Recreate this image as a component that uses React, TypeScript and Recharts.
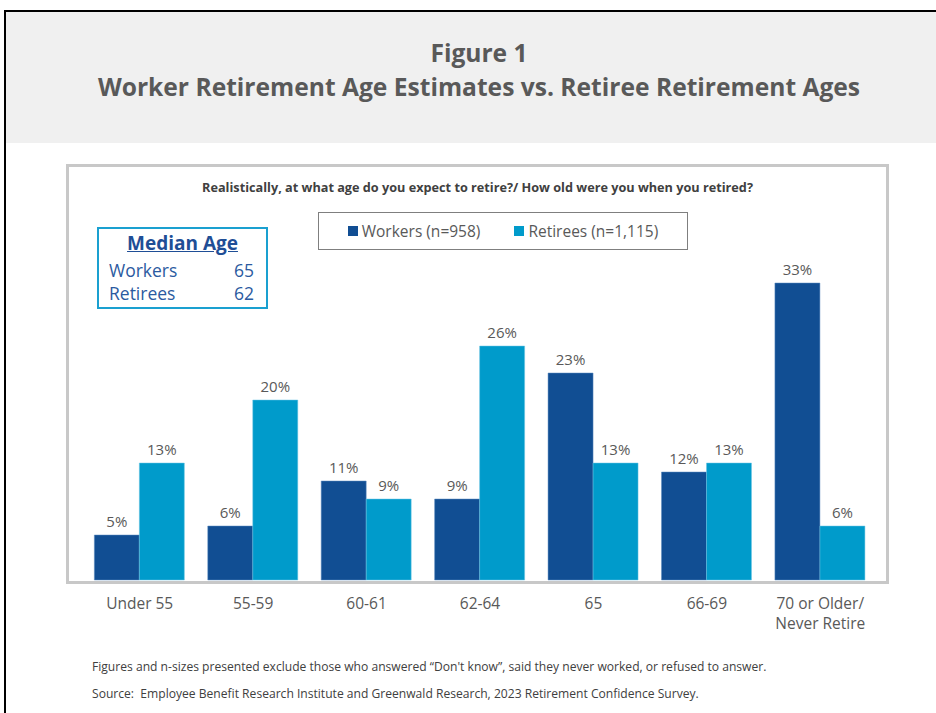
import React from "react";
import { BarChart, Bar, XAxis, YAxis, LabelList } from "recharts";

const categories = ["Under 55", "55-59", "60-61", "62-64", "65", "66-69", "70 or Older/\nNever Retire"];
const workers = [5, 6, 11, 9, 23, 12, 33];
const retirees = [13, 20, 9, 26, 13, 13, 6];
const seriesNames = ["Workers (n=958)", "Retirees (n=1,115)"];
const seriesColors = ["#114e93", "#009bcb"];

const FONT = "'Open Sans', 'DejaVu Sans', sans-serif";
const GRAY = "#595959";

const data = categories.map((c, i) => ({
  category: c,
  workers: workers[i],
  retirees: retirees[i],
}));

const AgeTick = ({ x, y, payload }: any) => {
  const lines = String(payload.value).split("\n");
  return (
    <text x={x} y={y} textAnchor="middle" fill={GRAY} fontSize={15.5} fontFamily={FONT}>
      {lines.map((line, i) => (
        <tspan key={i} x={x} dy={i === 0 ? 21 : 20}>
          {line}
        </tspan>
      ))}
    </text>
  );
};

const LegendBox = () => (
  <div
    style={{
      position: "absolute",
      left: 318,
      top: 212,
      width: 368,
      height: 36,
      border: "1px solid #7f7f7f",
      display: "flex",
      alignItems: "center",
      justifyContent: "center",
      gap: 34,
      fontFamily: FONT,
      fontSize: 15.5,
      color: GRAY,
      background: "#fff",
    }}
  >
    {seriesNames.map((n, i) => (
      <span key={n} style={{ display: "flex", alignItems: "center" }}>
        <span style={{ width: 10, height: 10, background: seriesColors[i], marginRight: 4 }} />
        {n}
      </span>
    ))}
  </div>
);

export default function App() {
  return (
    <div style={{ position: "absolute", left: 0, top: 0, width: 936, height: 713, background: "#fff", overflow: "hidden" }}>
      {/* outer frame + gray header */}
      <div style={{ position: "absolute", left: 4, top: 10, width: 940, height: 720, borderLeft: "2px solid #000", borderTop: "2px solid #000" }} />
      <div style={{ position: "absolute", left: 6, top: 12, width: 930, height: 131, background: "#f0f0f0" }} />
      <div
        style={{
          position: "absolute",
          left: 6,
          top: 36,
          width: 946,
          textAlign: "center",
          fontFamily: FONT,
          fontWeight: 700,
          color: GRAY,
          fontSize: 24.6,
          lineHeight: "34px",
        }}
      >
        <div>Figure 1</div>
        <div>Worker Retirement Age Estimates vs. Retiree Retirement Ages</div>
      </div>

      {/* chart frame */}
      <div style={{ position: "absolute", left: 66, top: 164, width: 817, height: 414, border: "3px solid #c8c8c8" }} />
      <div
        style={{
          position: "absolute",
          left: 69,
          top: 178,
          width: 817,
          textAlign: "center",
          fontFamily: FONT,
          fontWeight: 700,
          fontSize: 12.7,
          color: "#404040",
        }}
      >
        Realistically, at what age do you expect to retire?/ How old were you when you retired?
      </div>

      {/* median box */}
      <div
        style={{
          position: "absolute",
          left: 97,
          top: 227,
          width: 167,
          height: 78,
          border: "2px solid #1aa0d0",
          fontFamily: FONT,
          color: "#2b5aa0",
          fontSize: 17.5,
          boxSizing: "content-box",
        }}
      >
        <div style={{ textAlign: "center", fontWeight: 700, fontSize: 19, color: "#1f4e96", textDecoration: "underline", lineHeight: "28px", marginTop: 0 }}>
          Median Age
        </div>
        <div style={{ display: "flex", justifyContent: "space-between", padding: "0 12px 0 10px", lineHeight: "23px", marginTop: 2 }}>
          <span>Workers</span>
          <span>65</span>
        </div>
        <div style={{ display: "flex", justifyContent: "space-between", padding: "0 12px 0 10px", lineHeight: "22px" }}>
          <span>Retirees</span>
          <span>62</span>
        </div>
      </div>

      <LegendBox />

      <div style={{ position: "absolute", left: 0, top: 0 }}>
        <BarChart
          width={936}
          height={713}
          data={data}
          margin={{ top: 265, right: 59, left: 83, bottom: 93 }}
          barCategoryGap="10%"
          barGap={0}
        >
          <XAxis dataKey="category" axisLine={false} tickLine={false} height={40} tick={<AgeTick />} interval={0} />
          <YAxis hide domain={[0, 35]} />
          <Bar dataKey="workers" name={seriesNames[0]} fill={seriesColors[0]} stroke="#5f8cc0" strokeWidth={0.5} isAnimationActive={false}>
            <LabelList dataKey="workers" position="top" offset={8} formatter={(v: any) => `${v}%`} fill={GRAY} fontSize={15} fontFamily={FONT} />
          </Bar>
          <Bar dataKey="retirees" name={seriesNames[1]} fill={seriesColors[1]} stroke="#6cc6e4" strokeWidth={0.5} isAnimationActive={false}>
            <LabelList dataKey="retirees" position="top" offset={8} formatter={(v: any) => `${v}%`} fill={GRAY} fontSize={15} fontFamily={FONT} />
          </Bar>
        </BarChart>
      </div>

      {/* footnotes */}
      <div style={{ position: "absolute", left: 92, top: 653, fontFamily: FONT, fontSize: 12.1, color: "#404040", lineHeight: "27px" }}>
        <div>Figures and n-sizes presented exclude those who answered “Don't know”, said they never worked, or refused to answer.</div>
        <div>Source:&nbsp; Employee Benefit Research Institute and Greenwald Research, 2023 Retirement Confidence Survey.</div>
      </div>
    </div>
  );
}
